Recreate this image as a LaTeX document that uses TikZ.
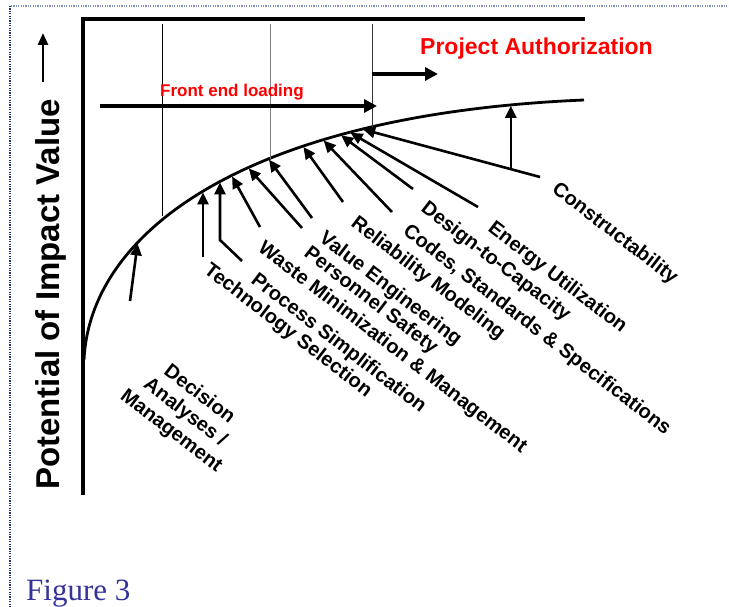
\documentclass[tikz,border=0pt]{standalone}
\usepackage{fontspec}
\setmainfont{Liberation Sans}
\newfontfamily\figserif{Liberation Serif}
\usetikzlibrary{arrows.meta}
\definecolor{figblue}{RGB}{51,51,153}
\definecolor{dotnavy}{RGB}{30,50,120}
\definecolor{dotlight}{RGB}{130,150,190}
\definecolor{titlered}{RGB}{255,0,0}

\begin{document}
\begin{tikzpicture}[x=1pt,y=-1pt,
  lblfont/.style={font=\bfseries\fontsize{20}{23}\selectfont},
  lbl/.style={lblfont, inner sep=0pt, rotate=-37.5, anchor=base west},
  arr/.style={line width=2.6pt, -{Triangle[length=12pt,width=11pt]}, shorten >=1pt},
  bigarr/.style={line width=3.5pt, -{Triangle[length=13pt,width=13pt]}},
  guide/.style={line width=1pt},
  frame/.style={line width=3.2pt, line join=miter},
  curve/.style={line width=2.8pt},
  redtitle/.style={font=\bfseries, text=titlered, inner sep=0pt, anchor=base west}
]
\useasboundingbox (0,0) rectangle (729,607);

% dotted page border
\draw[dotlight, line width=1.8pt, dash pattern=on 1.2pt off 1.2pt] (11,6) -- (729,6);
\draw[dotnavy, line width=1.8pt, dash pattern=on 1.2pt off 1.2pt] (10,6) -- (10,607);

% axes frame
\draw[frame] (83,495) -- (83,19) -- (585,19);

% phase guide lines
\coordinate (g1t) at (162,24);
\coordinate (g2t) at (270,24);
\coordinate (g3t) at (372,24);

% impact curve with points where the arrows meet it
\draw[curve] (84,360) .. controls (90,230) and (250,114) .. (584,100)
  coordinate[pos=0.32]  (cDec)
  coordinate[pos=0.40]  (cG1)
  coordinate[pos=0.483] (cTech)
  coordinate[pos=0.518] (cProc)
  coordinate[pos=0.54]  (cWaste)
  coordinate[pos=0.57]  (cPers)
  coordinate[pos=0.605] (cValue)
  coordinate[pos=0.603] (cG2)
  coordinate[pos=0.66]  (cRel)
  coordinate[pos=0.69]  (cCodes)
  coordinate[pos=0.715] (cDesign)
  coordinate[pos=0.728] (cEnergy)
  coordinate[pos=0.745] (cConst)
  coordinate[pos=0.752] (cG3)
  coordinate[pos=0.925] (cTop);

\draw[guide] (g1t) -- (g1t |- cG1);
\draw[guide, gray] (g2t) -- (g2t |- cG2);
\draw[guide, black!80] (g3t) -- (g3t |- cG3);

% y axis label and arrow
\node[font=\bfseries\fontsize{33}{33}\selectfont, rotate=90, anchor=base west, inner sep=0pt]
  (ylabel) at (59,490) {Potential of Impact Value};
\coordinate (yaTail) at (43,82);
\coordinate (yaTip) at (43,33);
\draw[line width=2.6pt, -{Triangle[length=12pt,width=10pt]}] (yaTail) -- (yaTip);

% phase headings
\node[redtitle, font=\bfseries\fontsize{23}{23}\selectfont] (auth) at (420,55) {Project Authorization};
\node[redtitle, font=\bfseries\fontsize{17}{17}\selectfont] (fel) at (160,97) {Front end loading};
\coordinate (felTail) at (100,106);
\coordinate (felTip) at (377,106);
\draw[bigarr] (felTail) -- (felTip);
\coordinate (authTail) at (372,74);
\coordinate (authTip) at (438,74);
\draw[bigarr] (authTail) -- (authTip);

% activity labels
\node[lblfont, rotate=-37.5, align=center, inner sep=0pt]
  (dec) at (185,413) {Decision\\Analyses /\\Management};
\node[lbl] (tech)   at (203,272.5) {Technology Selection};
\node[lbl] (proc)   at (250,282.5) {Process Simplification};
\node[lbl] (waste)  at (257,250.5) {Waste Minimization \& Management};
\node[lbl] (pers)   at (303,255.5) {Personnel Safety};
\node[lbl] (value)  at (318,240.5) {Value Engineering};
\node[lbl] (rel)    at (350,225.5) {Reliability Modeling};
\node[lbl] (codes)  at (402,233.5) {Codes, Standards \& Specifications};
\node[lbl] (design) at (420,210.5) {Design-to-Capacity};
\node[lbl] (energy) at (487,230.5) {Energy Utilization};
\node[lbl] (const)  at (551,191.5) {Constructability};

% arrow tails
\coordinate (tDec)    at (130,301);
\coordinate (tTech)   at (203,257);
\coordinate (tProc)   at (242,261);
\coordinate (bProc)   at (220,240);
\coordinate (tWaste)  at (260,227);
\coordinate (tPers)   at (302,228);
\coordinate (tValue)  at (312,218);
\coordinate (tRel)    at (343,202);
\coordinate (tCodes)  at (392,212);
\coordinate (tDesign) at (413,189);
\coordinate (tEnergy) at (478,207);
\coordinate (tConst)  at (540,177);

% arrows to the curve
\draw[arr] (tDec) -- (cDec);
\draw[arr] (tTech) -- (tTech |- cTech);
\draw[arr] (tProc) -- (bProc) -- (bProc |- cProc);
\draw[arr] (tWaste) -- (cWaste);
\draw[arr] (tPers) -- (cPers);
\draw[arr] (tValue) -- (cValue);
\draw[arr] (tRel) -- (cRel);
\draw[arr] (tCodes) -- (cCodes);
\draw[arr] (tDesign) -- (cDesign);
\draw[arr] (tEnergy) -- (cEnergy);
\draw[arr] (tConst) -- coordinate[pos=0.164] (bConst) (cConst);
\draw[arr] (bConst) -- (bConst |- cTop);

% caption
\node[font=\figserif\fontsize{31}{31}\selectfont, text=figblue, anchor=base west, inner sep=0pt]
  (fig) at (26,600) {Figure 3};
\end{tikzpicture}
\end{document}
